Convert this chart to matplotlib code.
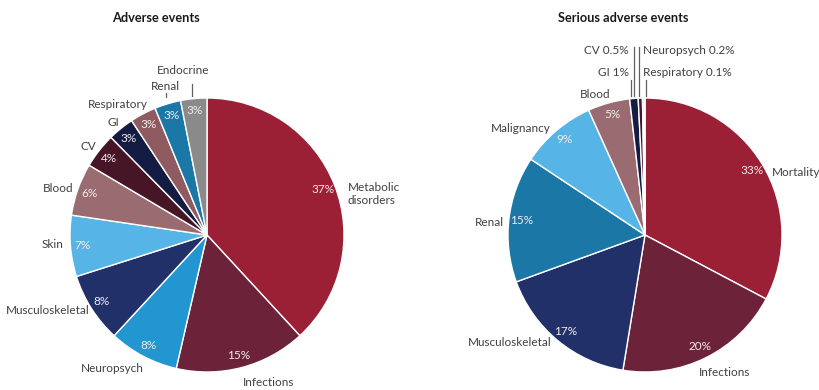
import matplotlib
matplotlib.use('Agg')
import matplotlib.pyplot as plt
import numpy as np

plt.rcParams['font.family'] = ['Lato', 'DejaVu Sans']

# Adverse events by category (%)
ae_labels = ['Metabolic\ndisorders', 'Infections', 'Neuropsych', 'Musculoskeletal', 'Skin',
             'Blood', 'CV', 'GI', 'Respiratory', 'Renal', 'Endocrine']
ae_values = [37, 15, 8, 8, 7, 6, 4, 3, 3, 3, 3]
ae_colors = ['#9b2035', '#6c2239', '#2196d1', '#223069', '#56b5e6',
             '#9a6b70', '#471626', '#141c44', '#8f5b60', '#1b77a6', '#8a8a8a']

# Serious adverse events by category (%)
sae_labels = ['Mortality', 'Infections', 'Musculoskeletal', 'Renal', 'Malignancy',
              'Blood', 'GI', 'CV', 'Neuropsych', 'Respiratory']
sae_values = [33, 20, 17, 15, 9, 5, 1, 0.5, 0.2, 0.1]
sae_colors = ['#9b2035', '#6c2239', '#223069', '#1b77a6', '#56b5e6',
              '#9a6b70', '#141c44', '#471626', '#2196d1', '#8f5b60']

W, H = 819, 390
TXT = '#404040'
FS = 8.5


def Y(y):
    # pixel rows count from the top
    return H - y


fig = plt.figure(figsize=(W / 100, H / 100), dpi=100)
ax = fig.add_axes([0, 0, 1, 1])

R = 137


def draw_pie(values, colors, cx, cy):
    wedges, _ = ax.pie(values, colors=colors, startangle=90, counterclock=False,
                       center=(cx, Y(cy)), radius=R,
                       wedgeprops=dict(edgecolor='white', linewidth=1))
    for w, v in zip(wedges, values):
        if v < 2:
            continue
        a = np.deg2rad((w.theta1 + w.theta2) / 2)
        ax.text(cx + 0.91 * R * np.cos(a), Y(cy) + 0.91 * R * np.sin(a), '%g%%' % v,
                color='#f2ecec', fontsize=FS, ha='center', va='center')
    return wedges


draw_pie(ae_values, ae_colors, 207, 235)
draw_pie(sae_values, sae_colors, 645, 235)

# category labels, left pie
ae_pos = [(348, 194, 'left'), (269, 382, 'center'), (112, 368, 'center'),
          (48, 311, 'center'), (53, 245, 'center'), (58, 189, 'center'),
          (88, 146, 'center'), (113, 122, 'center'), (118, 105, 'center'),
          (165, 87, 'center'), (183, 71, 'center')]
for lab, (x, y, ha) in zip(ae_labels, ae_pos):
    ax.text(x, Y(y), lab, color=TXT, fontsize=FS, ha=ha, va='center', linespacing=1.15)
ax.plot([192, 192], [Y(84), Y(96)], color='#606060', lw=0.9)
ax.plot([166, 166], [Y(93), Y(97)], color='#606060', lw=0.9)

# category labels, right pie
sae_pos = [(772, 172, 'left'), (725, 373, 'center'), (510, 343, 'center'),
           (489, 222, 'center'), (521, 129, 'center'), (595, 94, 'center')]
for lab, (x, y, ha) in zip(sae_labels[:6], sae_pos):
    ax.text(x, Y(y), lab, color=TXT, fontsize=FS, ha=ha, va='center')

# the tiny slices get labels with leader lines above the pie
small = [(629, 72, 'right', 631, 80), (629, 51, 'right', 634, 47),
         (643, 51, 'left', 639, 47), (643, 73, 'left', 645.7, 80)]
for lab, v, (x, y, ha, lx, ly) in zip(sae_labels[6:], sae_values[6:], small):
    ax.text(x, Y(y), '%s %g%%' % (lab, v), color=TXT, fontsize=FS, ha=ha, va='center')
    ax.plot([lx, lx], [Y(ly), Y(96)], color='#606060', lw=0.9)

ax.text(156, Y(18), 'Adverse events', fontsize=9.2, fontweight='bold', color='#1a1a1a',
        ha='center', va='center')
ax.text(623, Y(18), 'Serious adverse events', fontsize=9.2, fontweight='bold', color='#1a1a1a',
        ha='center', va='center')

ax.set_xlim(0, W)
ax.set_ylim(0, H)
ax.axis('off')

fig.savefig('out.png', dpi=100, facecolor='white')
